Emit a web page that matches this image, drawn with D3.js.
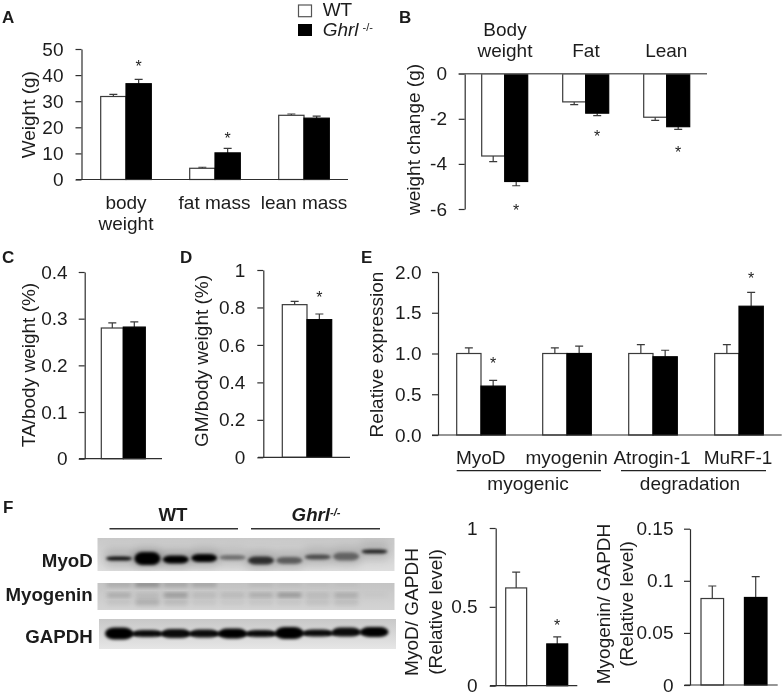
<!DOCTYPE html>
<html><head><meta charset="utf-8">
<script src="https://cdn.jsdelivr.net/npm/d3@7"></script>
<style>
html,body{margin:0;padding:0;background:#fff}
svg{display:block;filter:blur(0.35px)}
text{font-family:"Liberation Sans",Arial,sans-serif;fill:#1c1c1c}
</style></head><body>
<svg id="fig" width="784" height="695"></svg>
<script>
// ---- data ----
const seriesNames = ["WT", "Ghrl"];

const aCategories = ["body", "fat mass", "lean mass"];
const aWT = [31.8, 4.3, 24.6];
const aKO = [36.7, 10.2, 23.5];
const aWTTop = [32.6, 4.7, 25.1];
const aKOTop = [38.4, 11.9, 24.3];
const aStars = [null, 44.6, null, 17, null, null];
const aTicks = [0, 10, 20, 30, 40, 50];

const bCategories = ["Body", "Fat", "Lean"];
const bWT = [-3.65, -1.25, -1.93];
const bKO = [-4.78, -1.75, -2.35];
const bWTTop = [-3.9, -1.37, -2.07];
const bKOTop = [-4.97, -1.86, -2.47];
const bStars = [null, -5.95, null, -2.65, null, -3.35];
const bTicks = [0, -2, -4, -6];

const cCategories = ["TA"];
const cWT = [0.28];
const cKO = [0.282];
const cWTTop = [0.291];
const cKOTop = [0.293];
const cStars = [null, null];
const cTicks = [0, 0.1, 0.2, 0.3, 0.4];
const cTickLabels = ["0", "0.1", "0.2", "0.3", "0.4"];

const dCategories = ["GM"];
const dWT = [0.815];
const dKO = [0.735];
const dWTTop = [0.832];
const dKOTop = [0.765];
const dStars = [null, 0.87];
const dTicks = [0, 0.2, 0.4, 0.6, 0.8, 1];
const dTickLabels = ["0", "0.2", "0.4", "0.6", "0.8", "1"];

const eCategories = ["MyoD", "myogenin", "Atrogin-1", "MuRF-1"];
const eWT = [1, 1, 1, 1];
const eKO = [0.6, 1, 0.96, 1.58];
const eWTTop = [1.07, 1.07, 1.11, 1.11];
const eKOTop = [0.67, 1.09, 1.04, 1.75];
const eStars = [null, 0.91, null, null, null, null, null, 1.955];
const eTicks = [0, 0.5, 1, 1.5, 2];
const eTickLabels = ["0.0", "0.5", "1.0", "1.5", "2.0"];

const f1Categories = ["MyoD"];
const f1WT = [0.62];
const f1KO = [0.265];
const f1WTTop = [0.72];
const f1KOTop = [0.31];
const f1Stars = [null, 0.4];
const f1Ticks = [0, 0.5, 1];
const f1TickLabels = ["0", "0.5", "1"];

const f2Categories = ["Myogenin"];
const f2WT = [0.083];
const f2KO = [0.084];
const f2WTTop = [0.095];
const f2KOTop = [0.104];
const f2Stars = [null, null];
const f2Ticks = [0, 0.05, 0.1, 0.15];
const f2TickLabels = ["0", "0.05", "0.1", "0.15"];

// western blot lanes: band darkness
const lanes = d3.range(10);
const myoDDark = [0.95, 1, 1, 1, 0.42, 0.75, 0.5, 0.6, 0.45, 0.85];
const myoDThick = [4, 13, 8, 8, 5, 8, 7, 5, 8, 4];
const myoDShift = [0, 0, 1, -0.5, -1, 2, 2, -1.5, -2, -7];
const myoDHalo = [0.14, 0.28, 0.2, 0.2, 0.1, 0.18, 0.14, 0.14, 0.16, 0.12];
const myogeninDark = [0.26, 0.14, 0.4, 0.15, 0.15, 0.25, 0.42, 0.15, 0.26, 0.04];
const myogeninUpper = [0.14, 0.3, 0.18, 0.18, 0.02, 0.07, 0.05, 0.03, 0.03, 0];
const myogeninLower = [0.06, 0.16, 0.1, 0.05, 0.04, 0.05, 0.05, 0.07, 0.09, 0];
const gapdhDark = [1, 0.95, 0.95, 0.95, 1, 0.95, 1, 0.95, 0.95, 1];
const gapdhThick = [12, 7, 9, 8, 10, 7, 12, 7, 9, 10];
const gapdhShift = [0, 0, 0, 0, 0, 0, -0.5, -0.5, -1.5, -1.5];
const gapdhLink = [0.9, 0.9, 0.9, 0.9, 0.9, 0.9, 0.9, 0.9, 0.7, 0];

// ---- drawing ----
const svg = d3.select("#fig");
const FS = 19, DARK = "#2e2e2e";

function label(t, x, y, o = {}) {
  return svg.append("text").attr("x", x).attr("y", y).text(t)
    .attr("text-anchor", o.anchor || "middle")
    .attr("font-size", o.size || FS)
    .attr("font-weight", o.weight || null)
    .attr("font-style", o.style || null);
}
function vlabel(t, x, y, o = {}) {
  return label(t, 0, 0, o).attr("transform", `translate(${x},${y}) rotate(-90)`);
}

function panel(p) {
  const y = d3.scaleLinear().domain(p.domain).range(p.yRange);
  const x = d3.scalePoint().domain(p.categories).range(p.xRange);
  const inner = d3.scaleBand().domain(seriesNames).range([-p.barW, p.barW]).paddingInner(p.gap || 0);
  const g = svg.append("g");
  const y0 = y(0);

  const ax = d3.axisLeft(y).tickValues(p.ticks).tickSize(p.tick).tickSizeOuter(0).tickPadding(p.pad)
    .tickFormat((d, i) => p.tickLabels ? p.tickLabels[i] : String(d));
  const axG = g.append("g").attr("transform", `translate(${p.axisX},0)`).call(ax);
  axG.selectAll("path,line").attr("stroke", DARK).attr("stroke-width", 1.2);
  axG.selectAll("text").attr("font-size", FS).attr("fill", "#1c1c1c")
    .style("font-family", '"Liberation Sans",Arial,sans-serif');

  const rows = p.categories.flatMap((c, i) => [
    { c, s: "WT", v: p.wt[i], top: p.wtTop[i], star: p.stars[i * 2] },
    { c, s: "Ghrl", v: p.ko[i], top: p.koTop[i], star: p.stars[i * 2 + 1] }
  ]);
  const cx = d => x(d.c) + inner(d.s) + inner.bandwidth() / 2;

  g.selectAll(".err").data(rows).join("path").attr("class", "err")
    .attr("fill", "none").attr("stroke", "#3a3a3a").attr("stroke-width", 1.2)
    .attr("d", d => `M${cx(d)},${y(d.v)}V${y(d.top)}M${cx(d) - 4},${y(d.top)}H${cx(d) + 4}`);

  g.selectAll(".bar").data(rows).join("rect").attr("class", "bar")
    .attr("x", d => x(d.c) + inner(d.s))
    .attr("width", inner.bandwidth())
    .attr("y", d => Math.min(y(d.v), y0))
    .attr("height", d => Math.abs(y(d.v) - y0))
    .attr("fill", d => d.s === "WT" ? "#fff" : "#000")
    .attr("stroke", d => d.s === "WT" ? "#3a3a3a" : "#000")
    .attr("stroke-width", 1.2);

  g.append("line").attr("x1", p.baseX[0]).attr("x2", p.baseX[1]).attr("y1", y0).attr("y2", y0)
    .attr("stroke", p.baseColor || DARK).attr("stroke-width", p.baseW || 1.2);

  g.selectAll(".star").data(rows.filter(d => d.star != null)).join("text").attr("class", "star")
    .attr("x", cx).attr("y", d => y(d.star) + 8.5).attr("text-anchor", "middle")
    .attr("font-size", 16).text("*");
}

panel({ categories: aCategories, wt: aWT, ko: aKO, wtTop: aWTTop, koTop: aKOTop, stars: aStars, ticks: aTicks,
  domain: [0, 50], yRange: [179.5, 49], xRange: [126, 304], barW: 25.3, axisX: 81.5, tick: 6, pad: 12, baseX: [76, 348] });
panel({ categories: bCategories, wt: bWT, ko: bKO, wtTop: bWTTop, koTop: bKOTop, stars: bStars, ticks: bTicks,
  domain: [-6, 0], yRange: [209, 73.7], xRange: [504.7, 666.7], barW: 23, axisX: 464.7, tick: 6, pad: 11.7, baseX: [458.7, 707], baseColor: "#666", baseW: 1.6 });
panel({ categories: cCategories, wt: cWT, ko: cKO, wtTop: cWTTop, koTop: cKOTop, stars: cStars, ticks: cTicks, tickLabels: cTickLabels,
  domain: [0, 0.4], yRange: [458.7, 272], xRange: [123.3, 123.3], barW: 22, axisX: 84.7, tick: 6, pad: 11, baseX: [79, 162] });
panel({ categories: dCategories, wt: dWT, ko: dKO, wtTop: dWTTop, koTop: dKOTop, stars: dStars, ticks: dTicks, tickLabels: dTickLabels,
  domain: [0, 1], yRange: [457.3, 270], xRange: [307, 307], barW: 24.7, axisX: 263.3, tick: 6, pad: 12, baseX: [258, 350] });
panel({ categories: eCategories, wt: eWT, ko: eKO, wtTop: eWTTop, koTop: eKOTop, stars: eStars, ticks: eTicks, tickLabels: eTickLabels,
  domain: [0, 2], yRange: [435, 272], xRange: [481, 739], barW: 24.3, axisX: 438, tick: 6, pad: 10.5, baseX: [432, 781.7] });
panel({ categories: f1Categories, wt: f1WT, ko: f1KO, wtTop: f1WTTop, koTop: f1KOTop, stars: f1Stars, ticks: f1Ticks, tickLabels: f1TickLabels,
  domain: [0, 1], yRange: [685.7, 528], xRange: [536.7, 536.7], barW: 31, gap: 0.49, axisX: 495.7, tick: 6, pad: 12, baseX: [490, 577.3] });
panel({ categories: f2Categories, wt: f2WT, ko: f2KO, wtTop: f2WTTop, koTop: f2KOTop, stars: f2Stars, ticks: f2Ticks, tickLabels: f2TickLabels,
  domain: [0, 0.15], yRange: [685, 528.7], xRange: [734, 734], barW: 33, gap: 0.48, axisX: 690, tick: 6, pad: 10.5, baseX: [684.5, 777.7] });

// panel letters
[["A", 2, 23], ["B", 399, 22.7], ["C", 2, 262.7], ["D", 180, 262.7], ["E", 361, 262.7], ["F", 3, 513]]
  .forEach(([t, x, y]) => label(t, x, y, { anchor: "start", size: 17, weight: "bold" }));

// legend
svg.append("rect").attr("x", 298.5).attr("y", 5).attr("width", 13).attr("height", 11.7).attr("fill", "#fff").attr("stroke", "#555").attr("stroke-width", 1.2);
svg.append("rect").attr("x", 298).attr("y", 24).attr("width", 14).attr("height", 12).attr("fill", "#000");
label("WT", 322.7, 15.7, { anchor: "start" });
const lg = label("Ghrl", 322.7, 36, { anchor: "start", style: "italic" });
lg.append("tspan").attr("dx", 4).attr("dy", -5).attr("font-size", 11).attr("font-style", "normal").text("-/-");

// axis titles and category labels
vlabel("Weight (g)", 35, 114.7);
label("body", 126, 209); label("weight", 126, 230); label("fat mass", 214.5, 209); label("lean mass", 304, 209);
vlabel("weight change (g)", 420, 139.5);
label("Body", 505, 35.7); label("weight", 505, 57.3); label("Fat", 586, 57.3); label("Lean", 666.3, 57.3);
vlabel("TA/body weight (%)", 35, 365);
vlabel("GM/body weight (%)", 208, 361);
vlabel("Relative expression", 382.7, 354.5);
eCategories.forEach((c, i) => label(c, [480.7, 566.7, 652, 738][i], 464));
[[456.7, 601], [621, 766]].forEach(([a, b]) =>
  svg.append("line").attr("x1", a).attr("x2", b).attr("y1", 470.7).attr("y2", 470.7).attr("stroke", "#222").attr("stroke-width", 1.2));
label("myogenic", 528, 490); label("degradation", 690, 490);

vlabel("MyoD/ GAPDH", 418, 612);
vlabel("(Relative level)", 442, 612);
vlabel("Myogenin/ GAPDH", 610, 604);
vlabel("(Relative level)", 632.7, 604);

// western blot
const defs = svg.append("defs");
const mkBlur = (id, s) => defs.append("filter").attr("id", id).attr("x", "-30%").attr("y", "-60%").attr("width", "160%").attr("height", "220%")
  .append("feGaussianBlur").attr("stdDeviation", s);
mkBlur("blur1", 1.4);
mkBlur("blur2", 2);
mkBlur("blur3", 4);
const laneX = d3.scalePoint().domain(lanes).range([119, 374.5]);

function blot(id, x, y, w, h, top, bot, layers) {
  const gr = defs.append("linearGradient").attr("id", "g" + id).attr("x1", 0).attr("x2", 0).attr("y1", 0).attr("y2", 1);
  gr.append("stop").attr("offset", 0).attr("stop-color", top);
  gr.append("stop").attr("offset", 1).attr("stop-color", bot);
  defs.append("clipPath").attr("id", "c" + id).append("rect").attr("x", x).attr("y", y).attr("width", w).attr("height", h);
  const g = svg.append("g").attr("clip-path", `url(#c${id})`);
  g.append("rect").attr("x", x).attr("y", y).attr("width", w).attr("height", h).attr("fill", `url(#g${id})`);
  layers.forEach(l => {
    g.append("g").attr("filter", `url(#${l.blur})`).selectAll("rect").data(lanes).join("rect")
      .attr("x", i => laneX(i) - l.w / 2 + (l.dx || 0)).attr("width", l.w)
      .attr("y", i => l.cy + (l.shift ? l.shift[i] : 0) - (l.thick ? l.thick[i] : l.t) / 2)
      .attr("height", i => l.thick ? l.thick[i] : l.t)
      .attr("rx", l.rx).attr("fill", "#000").attr("opacity", i => l.dark[i]);
  });
}
blot("a", 97.3, 538, 297.4, 33, "#c8c8c8", "#dedede", [
  { w: 30, cy: 558, t: 18, shift: myoDShift, dark: myoDHalo, rx: 6, blur: "blur3" },
  { w: 26, cy: 558.5, thick: myoDThick, shift: myoDShift, dark: myoDDark, rx: 8, blur: "blur1" }]);
blot("b", 97.3, 583, 297.4, 27, "#c4c4c4", "#d4d4d4", [
  { w: 26, cy: 584.5, t: 5, dark: myogeninUpper, rx: 3, blur: "blur2" },
  { w: 25, cy: 595, t: 3, dark: myogeninDark, rx: 2, blur: "blur2" },
  { w: 25, cy: 602, t: 7, dark: myogeninLower, rx: 3, blur: "blur2" }]);
blot("c", 99, 619, 297, 30, "#c8c8c8", "#e6e6e6", [
  { w: 10, dx: 14, cy: 634, t: 3.5, dark: gapdhLink, rx: 1, shift: gapdhShift, blur: "blur1" },
  { w: 28, cy: 633.5, thick: gapdhThick, shift: gapdhShift, dark: gapdhDark, rx: 9, blur: "blur1" }]);

label("MyoD", 92.7, 566.7, { anchor: "end", weight: "bold", size: 18.7 });
label("Myogenin", 92.7, 601, { anchor: "end", weight: "bold", size: 18.7 });
label("GAPDH", 92.7, 643, { anchor: "end", weight: "bold", size: 18.7 });
label("WT", 173, 521, { weight: "bold", size: 18.7 });
const gh = label("Ghrl", 316, 521, { weight: "bold", style: "italic", size: 18.7 });
gh.append("tspan").attr("dy", -5).attr("font-size", 11).text("-/-");
[[109.5, 238], [251, 380]].forEach(([a, b]) =>
  svg.append("line").attr("x1", a).attr("x2", b).attr("y1", 528.7).attr("y2", 528.7).attr("stroke", "#333").attr("stroke-width", 1.5));
</script>
</body></html>
